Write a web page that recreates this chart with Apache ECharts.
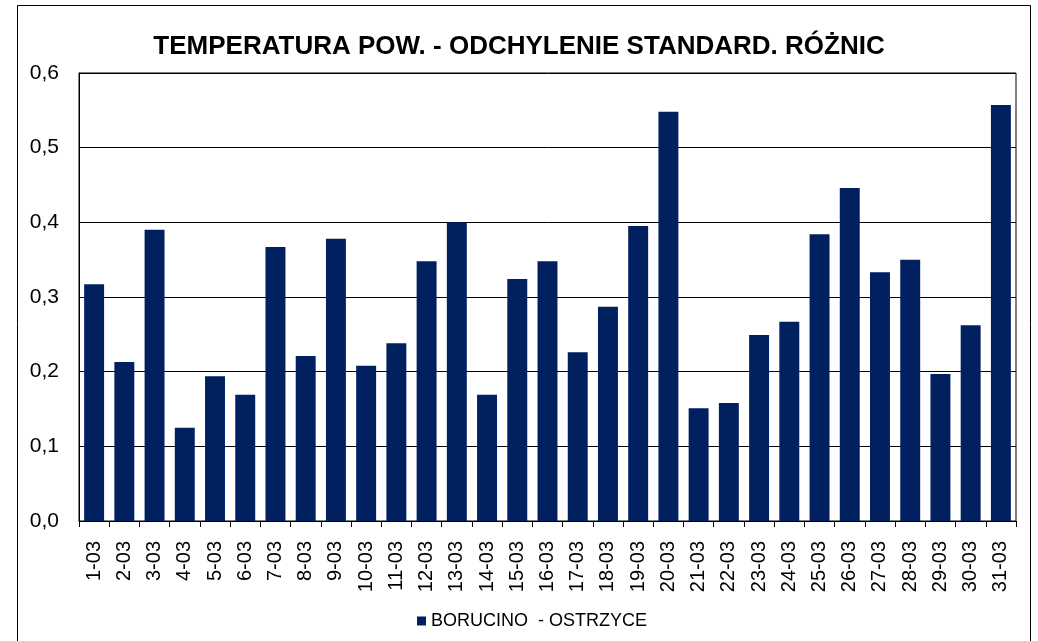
<!DOCTYPE html>
<html>
<head>
<meta charset="utf-8">
<script src="https://cdn.jsdelivr.net/npm/echarts@6/dist/echarts.min.js"></script>
<style>
  html, body { margin: 0; padding: 0; background: #fff; }
  #chart { width: 1038px; height: 641px; }
</style>
</head>
<body>
<div id="chart"></div>
<script>
// dni marca
var days = ['1-03', '2-03', '3-03', '4-03', '5-03', '6-03', '7-03', '8-03', '9-03', '10-03',
    '11-03', '12-03', '13-03', '14-03', '15-03', '16-03', '17-03', '18-03', '19-03', '20-03',
    '21-03', '22-03', '23-03', '24-03', '25-03', '26-03', '27-03', '28-03', '29-03', '30-03', '31-03'];

// odchylenie standardowe roznic
var stdDev = [0.317, 0.213, 0.390, 0.125, 0.194, 0.169, 0.367, 0.221, 0.378, 0.208,
    0.238, 0.348, 0.400, 0.169, 0.324, 0.348, 0.226, 0.287, 0.395, 0.548,
    0.151, 0.158, 0.249, 0.267, 0.384, 0.446, 0.333, 0.350, 0.197, 0.262, 0.557];

var seriesName = 'BORUCINO  - OSTRZYCE';
var titleText = 'TEMPERATURA POW. - ODCHYLENIE STANDARD. RÓŻNIC';

var chart = echarts.init(document.getElementById('chart'));
var font = '"Liberation Sans", Arial, sans-serif';

var option = {
    animation: false,
    textStyle: { fontFamily: font },
    graphic: [{
        type: 'rect',
        shape: { x: 17.5, y: 5.5, width: 1013, height: 660 },
        style: { fill: 'none', stroke: '#000', lineWidth: 1 },
        silent: true
    }],
    title: {
        text: titleText,
        left: 514,
        textAlign: 'center',
        top: 29,
        textStyle: { fontFamily: font, fontSize: 26, fontWeight: 'bold', color: '#000' }
    },
    legend: {
        bottom: 6,
        left: 412,
        icon: 'rect',
        itemWidth: 9,
        itemHeight: 9,
        itemGap: 5,
        textStyle: { fontFamily: font, fontSize: 18, color: '#000' },
        data: [seriesName]
    },
    grid: {
        left: 79,
        right: 22,
        top: 73,
        bottom: 120,
        show: true,
        borderColor: '#000',
        borderWidth: 1,
        containLabel: false
    },
    xAxis: {
        type: 'category',
        data: days,
        axisLine: { lineStyle: { color: '#000', width: 1 } },
        axisTick: { show: true, length: 6, lineStyle: { color: '#000' } },
        axisLabel: {
            rotate: 90,
            interval: 0,
            margin: 20,
            fontFamily: font,
            fontSize: 20,
            color: '#000'
        }
    },
    yAxis: {
        type: 'value',
        min: 0,
        max: 0.6,
        interval: 0.1,
        axisLine: { show: true, lineStyle: { color: '#000' } },
        axisTick: { show: false },
        splitLine: { lineStyle: { color: '#000', width: 1 } },
        axisLabel: {
            margin: 20,
            fontFamily: font,
            fontSize: 21,
            color: '#000',
            formatter: function (v) {
                return v.toFixed(1).replace('.', ',');
            }
        }
    },
    series: [{
        name: seriesName,
        type: 'bar',
        data: stdDev,
        barCategoryGap: '34%',
        itemStyle: { color: '#002060' }
    }]
};

chart.setOption(option);
</script>
</body>
</html>
